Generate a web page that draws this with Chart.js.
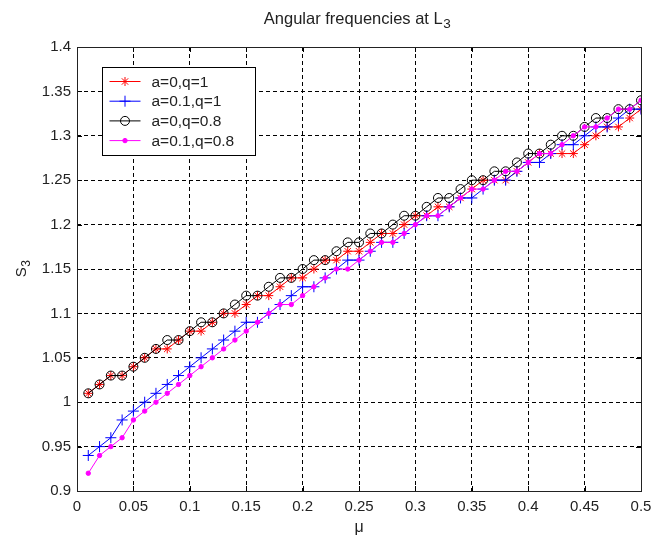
<!DOCTYPE html>
<html><head><meta charset="utf-8">
<script src="https://cdn.jsdelivr.net/npm/chart.js@4/dist/chart.umd.min.js"></script>
<style>html,body{margin:0;padding:0;background:#fff}#wrap{width:666px;height:543px}</style>
</head><body><div id="wrap"><canvas id="c" width="666" height="543"></canvas></div>
<script>
// ---- data ----
const mu = [0.01,0.02,0.03,0.04,0.05,0.06,0.07,0.08,0.09,0.10,
            0.11,0.12,0.13,0.14,0.15,0.16,0.17,0.18,0.19,0.20,
            0.21,0.22,0.23,0.24,0.25,0.26,0.27,0.28,0.29,0.30,
            0.31,0.32,0.33,0.34,0.35,0.36,0.37,0.38,0.39,0.40,
            0.41,0.42,0.43,0.44,0.45,0.46,0.47,0.48,0.49,0.50];
const s3_a0_q1 = [1.01,1.02,1.03,1.03,1.04,1.05,1.06,1.06,1.07,1.08,
                  1.08,1.09,1.10,1.10,1.11,1.12,1.12,1.13,1.14,1.14,
                  1.15,1.16,1.16,1.17,1.17,1.18,1.19,1.19,1.20,1.21,
                  1.21,1.22,1.22,1.23,1.24,1.25,1.25,1.25,1.26,1.27,
                  1.28,1.28,1.28,1.28,1.29,1.30,1.31,1.31,1.32,1.33];
const s3_a01_q1 = [0.94,0.95,0.96,0.98,0.99,1.00,1.01,1.02,1.03,1.04,
                   1.05,1.06,1.07,1.08,1.09,1.09,1.10,1.11,1.12,1.13,
                   1.13,1.14,1.15,1.16,1.16,1.17,1.18,1.18,1.19,1.20,
                   1.21,1.21,1.22,1.23,1.23,1.24,1.25,1.25,1.26,1.27,
                   1.27,1.28,1.29,1.29,1.30,1.31,1.31,1.32,1.33,1.33];
const s3_a0_q08 = [1.01,1.02,1.03,1.03,1.04,1.05,1.06,1.07,1.07,1.08,
                   1.09,1.09,1.10,1.11,1.12,1.12,1.13,1.14,1.14,1.15,
                   1.16,1.16,1.17,1.18,1.18,1.19,1.19,1.20,1.21,1.21,
                   1.22,1.23,1.23,1.24,1.25,1.25,1.26,1.26,1.27,1.28,
                   1.28,1.29,1.30,1.30,1.31,1.32,1.32,1.33,1.33,1.34];
const s3_a01_q08 = [0.92,0.94,0.95,0.96,0.98,0.99,1.00,1.01,1.02,1.03,
                    1.04,1.05,1.06,1.07,1.08,1.09,1.10,1.11,1.11,1.12,
                    1.13,1.14,1.15,1.15,1.16,1.17,1.18,1.18,1.19,1.20,
                    1.21,1.21,1.22,1.23,1.24,1.24,1.25,1.26,1.26,1.27,
                    1.28,1.28,1.29,1.30,1.31,1.31,1.32,1.33,1.33,1.34];
const seriesLabels = ['a=0,q=1','a=0.1,q=1','a=0,q=0.8','a=0.1,q=0.8'];
const xTicks = [0,0.05,0.1,0.15,0.2,0.25,0.3,0.35,0.4,0.45,0.5];
const xTickLabels = ['0','0.05','0.1','0.15','0.2','0.25','0.3','0.35','0.4','0.45','0.5'];
const yTicks = [0.9,0.95,1,1.05,1.1,1.15,1.2,1.25,1.3,1.35,1.4];
const yTickLabels = ['0.9','0.95','1','1.05','1.1','1.15','1.2','1.25','1.3','1.35','1.4'];
const titleMain = 'Angular frequencies at L', titleSub = '3';
const xTitle = '\u03bc';
const yTitleMain = 'S', yTitleSub = '3';

// ---- chart ----
const FONT = "'Liberation Sans', Arial, sans-serif";
const pts = (ys) => mu.map((m, i) => ({x: m, y: ys[i]}));
const styles = [
  {color:'#ff0000', pointStyle:'star', radius:4.5, bg:'#ff0000', order:4},
  {color:'#0000ff', pointStyle:'cross', radius:5.5, bg:'#0000ff', order:3},
  {color:'#000000', pointStyle:'circle', radius:4.5, bg:'rgba(0,0,0,0)', order:2},
  {color:'#ff00ff', pointStyle:'circle', radius:2.2, bg:'#ff00ff', order:1}
];
const allY = [s3_a0_q1, s3_a01_q1, s3_a0_q08, s3_a01_q08];
const datasets = allY.map((ys, i) => ({
  label: seriesLabels[i],
  data: pts(ys),
  borderColor: styles[i].color,
  backgroundColor: styles[i].bg,
  borderWidth: 1,
  pointStyle: styles[i].pointStyle,
  pointRadius: styles[i].radius,
  pointBorderColor: styles[i].color,
  pointBackgroundColor: styles[i].bg,
  pointBorderWidth: 1,
  tension: 0,
  fill: false,
  order: styles[i].order
}));

function drawSubText(ctx, main, sub, x, y, size) {
  ctx.font = size + 'px ' + FONT;
  const w1 = ctx.measureText(main).width;
  ctx.font = (size - 3) + 'px ' + FONT;
  const w2 = ctx.measureText(sub).width;
  const x0 = x - (w1 + w2) / 2;
  ctx.textAlign = 'left';
  ctx.textBaseline = 'alphabetic';
  ctx.font = size + 'px ' + FONT;
  ctx.fillText(main, x0, y);
  ctx.font = (size - 3) + 'px ' + FONT;
  ctx.fillText(sub, x0 + w1 + 0.5, y + 4);
}

const boxPlugin = {
  id: 'boxPlugin',
  afterDraw(chart) {
    const {ctx, chartArea: a, scales} = chart;
    ctx.save();
    ctx.strokeStyle = '#000';
    ctx.lineWidth = 1;
    ctx.setLineDash([]);
    ctx.beginPath();
    const tl = 5;
    xTicks.forEach(v => {
      const px = Math.round(scales.x.getPixelForValue(v)) + 0.5;
      ctx.moveTo(px, a.bottom); ctx.lineTo(px, a.bottom - tl);
      ctx.moveTo(px, a.top); ctx.lineTo(px, a.top + tl);
    });
    yTicks.forEach(v => {
      const py = Math.round(scales.y.getPixelForValue(v)) + 0.5;
      ctx.moveTo(a.left, py); ctx.lineTo(a.left + tl, py);
      ctx.moveTo(a.right, py); ctx.lineTo(a.right - tl, py);
    });
    ctx.stroke();
    ctx.strokeStyle = '#222';
    ctx.strokeRect(Math.round(a.left) + 0.5, Math.round(a.top) + 0.5,
                   Math.round(a.right - a.left), Math.round(a.bottom - a.top));
    // title
    ctx.fillStyle = '#222';
    drawSubText(ctx, titleMain, titleSub, (a.left + a.right) / 2 - 2, 24, 16.5);
    // y title (rotated)
    ctx.save();
    ctx.translate(26, (a.top + a.bottom) / 2);
    ctx.rotate(-Math.PI / 2);
    drawSubText(ctx, yTitleMain, yTitleSub, 0, 0, 15);
    ctx.restore();
    // legend
    const lx = Math.round(a.left) + 25.5, ly = Math.round(a.top) + 20.5;
    const lw = 153, lh = 88;
    ctx.fillStyle = '#fff';
    ctx.fillRect(lx, ly, lw, lh);
    ctx.strokeStyle = '#000';
    ctx.strokeRect(lx, ly, lw, lh);
    ctx.font = '15.5px ' + FONT;
    ctx.textBaseline = 'middle';
    ctx.textAlign = 'left';
    chart.data.datasets.forEach((ds, i) => {
      const yy = ly + 14 + i * 19.7;
      ctx.strokeStyle = ds.borderColor;
      ctx.lineWidth = 1;
      ctx.beginPath();
      ctx.moveTo(lx + 7, yy); ctx.lineTo(lx + 38, yy);
      ctx.stroke();
      ctx.fillStyle = ds.pointBackgroundColor;
      ctx.strokeStyle = ds.pointBorderColor;
      Chart.helpers.drawPoint(ctx, {pointStyle: ds.pointStyle, radius: ds.pointRadius, rotation: 0, borderWidth: 1}, lx + 22.5, yy);
      ctx.fillStyle = '#222';
      ctx.fillText(ds.label, lx + 49, yy + 1);
    });
    ctx.restore();
  }
};

new Chart(document.getElementById('c'), {
  type: 'line',
  data: {datasets},
  options: {
    responsive: false,
    animation: false,
    layout: {padding: {left: 0, right: 25, top: 47, bottom: 0}},
    plugins: {
      legend: {display: false},
      tooltip: {enabled: false},
      title: {display: false}
    },
    scales: {
      x: {
        type: 'linear', min: 0, max: 0.5,
        afterBuildTicks: (s) => { s.ticks = xTicks.map(v => ({value: v})); },
        afterFit: (s) => { s.height = 52; },
        ticks: {callback: (v, i) => xTickLabels[i], color: '#222', padding: 7,
                font: {family: FONT, size: 15}, maxRotation: 0, autoSkip: false},
        grid: {color: '#000', lineWidth: 1, drawTicks: false},
        border: {display: false, dash: [4, 3]},
        title: {display: true, text: xTitle, color: '#222',
                font: {family: FONT, size: 16}, padding: {top: 0, bottom: 6}}
      },
      y: {
        type: 'linear', min: 0.9, max: 1.4,
        afterBuildTicks: (s) => { s.ticks = yTicks.map(v => ({value: v})); },
        afterFit: (s) => { s.width = 77; },
        ticks: {callback: (v, i) => yTickLabels[i], color: '#222', padding: 6,
                font: {family: FONT, size: 15}, autoSkip: false},
        grid: {color: '#000', lineWidth: 1, drawTicks: false},
        border: {display: false, dash: [4, 3]}
      }
    }
  },
  plugins: [boxPlugin]
});
</script></body></html>
